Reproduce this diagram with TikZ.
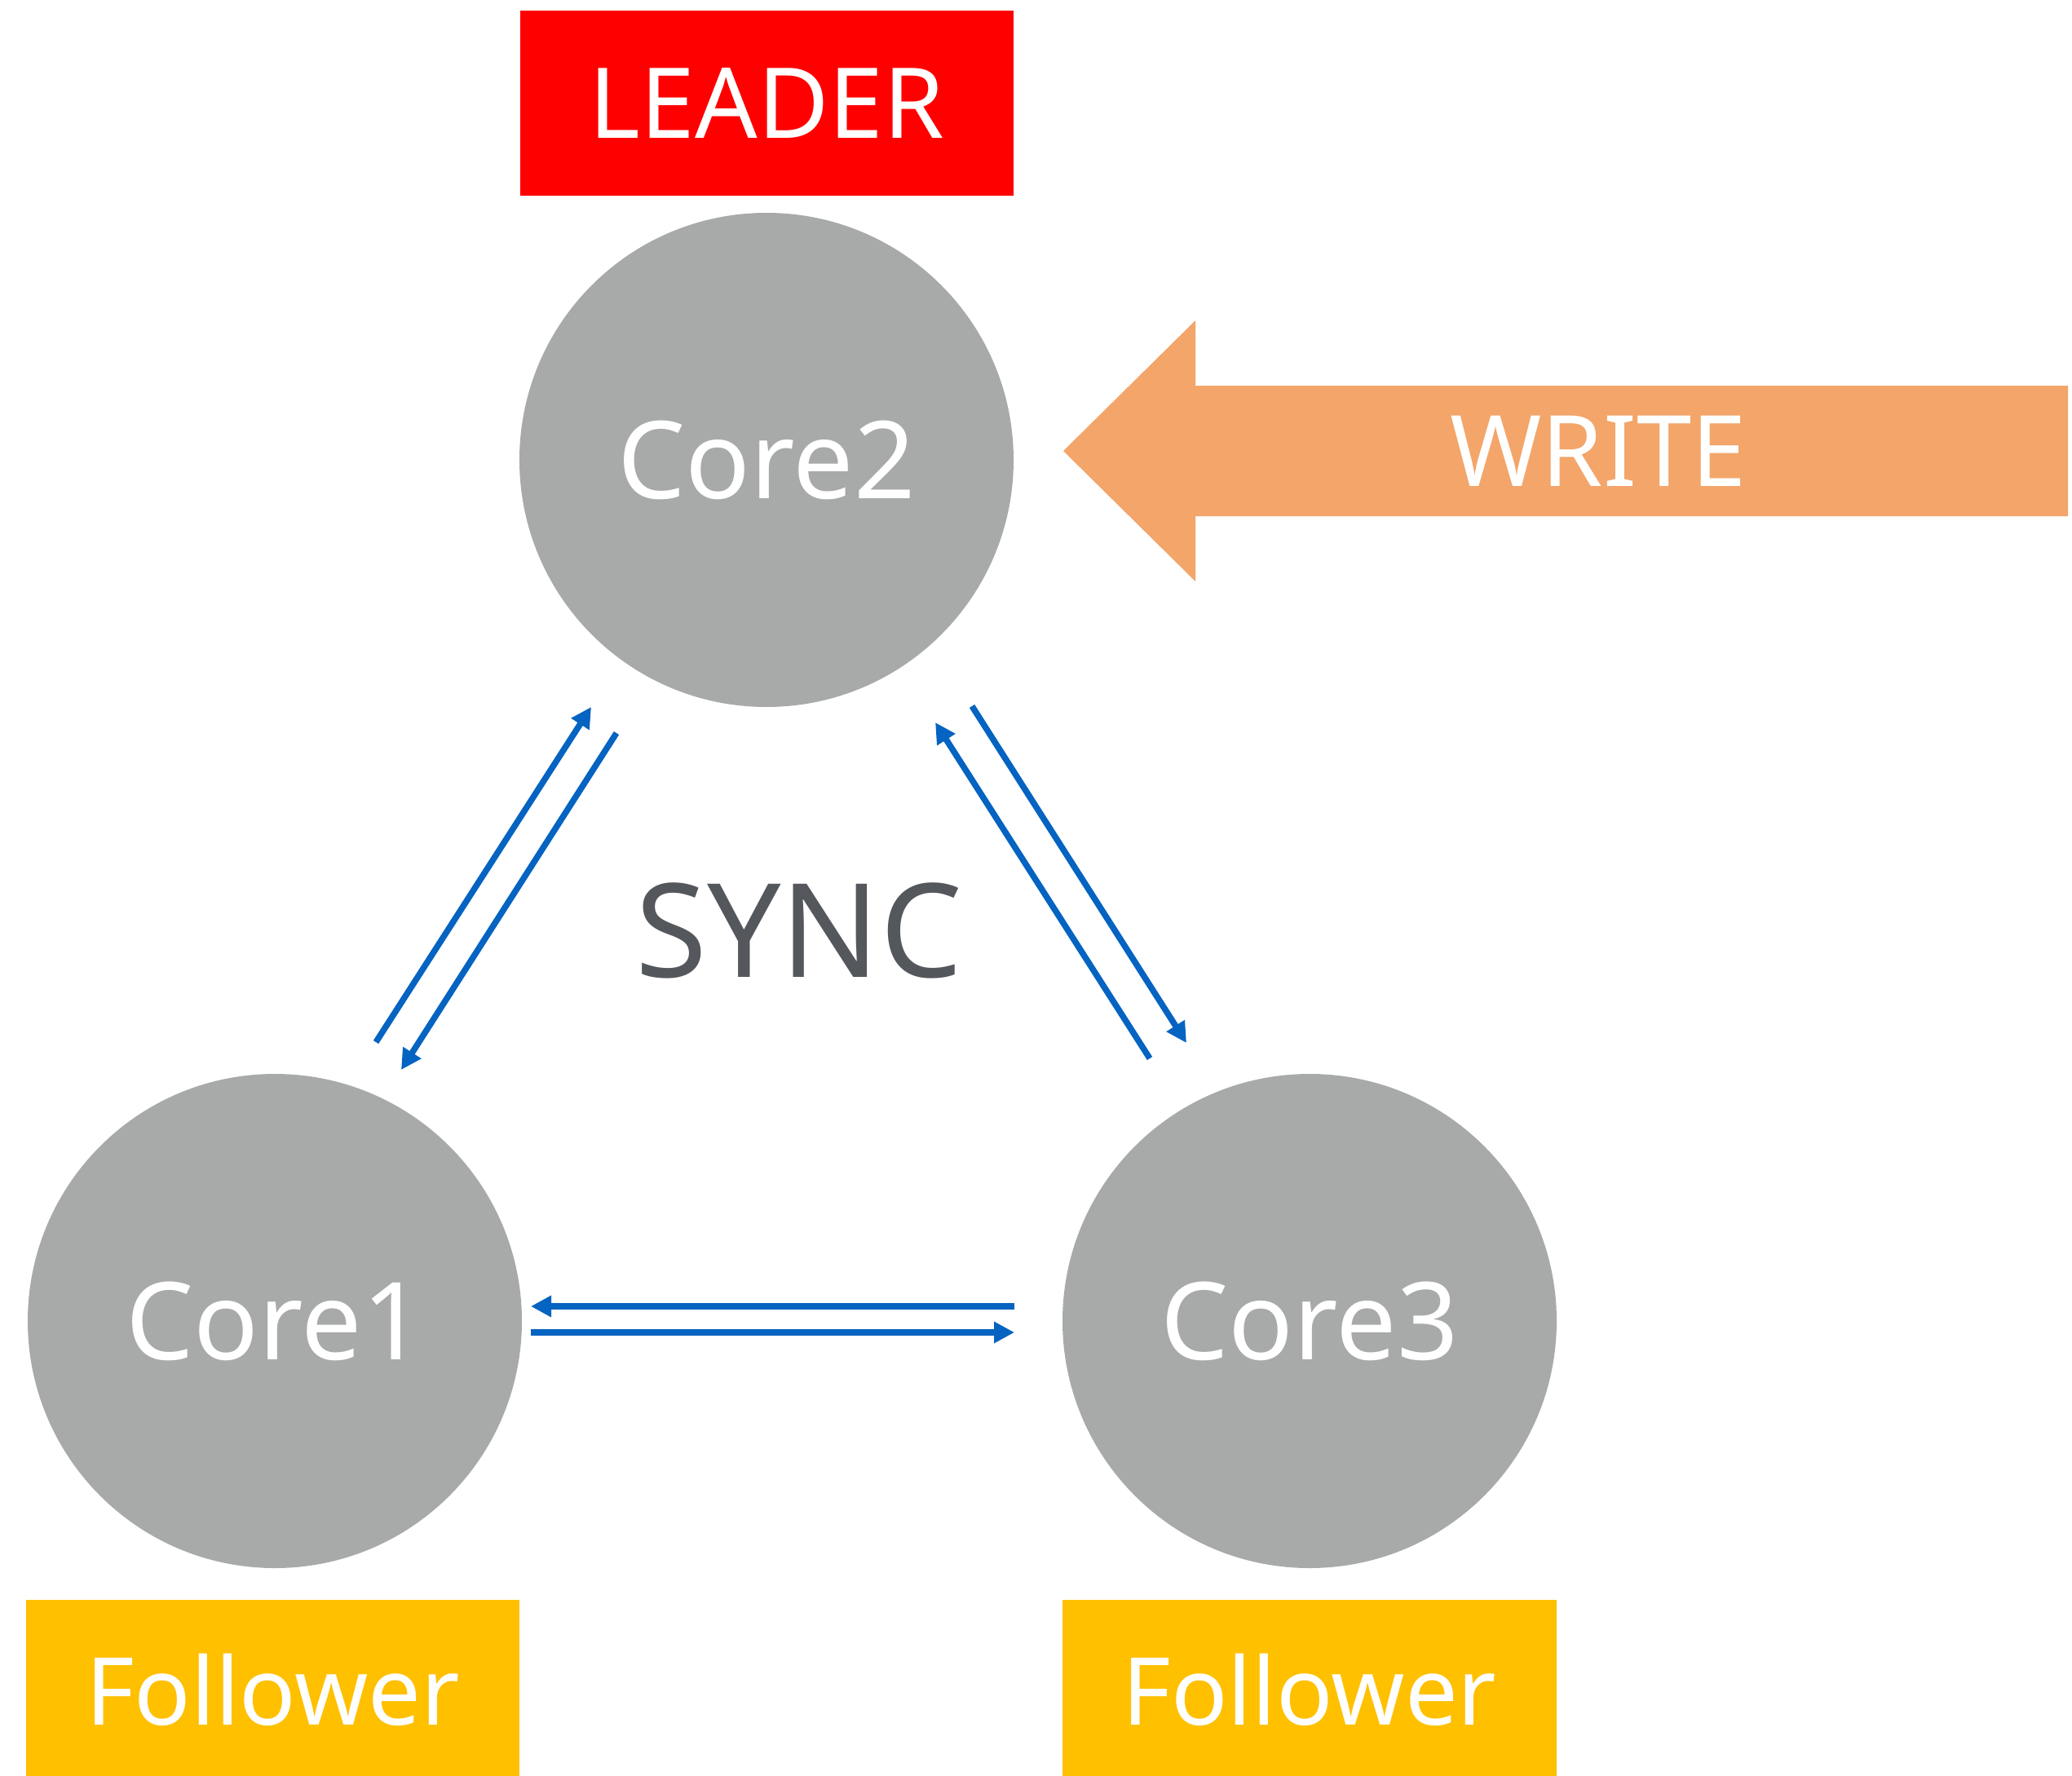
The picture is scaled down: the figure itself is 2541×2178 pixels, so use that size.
\documentclass[tikz,border=0pt]{standalone}
\usepackage{fontspec}
\setmainfont{Noto Sans}
\usetikzlibrary{arrows.meta}
\definecolor{coregray}{HTML}{A7AAA9}
\definecolor{leaderred}{HTML}{FF0000}
\definecolor{followyellow}{HTML}{FFC000}
\definecolor{writeorange}{HTML}{F3A56A}
\definecolor{syncblue}{HTML}{0563C1}
\definecolor{syncgray}{HTML}{54575C}
\tikzset{
  core/.style={circle, fill=coregray, minimum size=606pt, inner sep=0pt, text=white, font=\fontsize{132}{132}\selectfont},
  tagbox/.style={rectangle, inner sep=0pt, text=white, font=\fontsize{120}{120}\selectfont},
  syncarrow/.style={draw=syncblue, line width=7.5pt, -{Triangle[length=25pt,width=25pt]}},
}
\begin{document}
\begin{tikzpicture}[x=1pt,y=-1pt]
\useasboundingbox (0,0) rectangle (2541,2178);
% boxes
\node[tagbox, fill=leaderred, minimum width=605pt, minimum height=227pt] (leader) at (940.5,126.5) {LEADER};
\node[tagbox, fill=followyellow, minimum width=605pt, minimum height=220pt, font=\fontsize{115}{115}\selectfont] (f1) at (334.5,2072) {Follower};
\node[tagbox, fill=followyellow, minimum width=606pt, minimum height=220pt, font=\fontsize{115}{115}\selectfont] (f3) at (1606,2072) {Follower};
% cores
\node[core] (c2) at (940,564) {Core2};
\node[core] (c1) at (337,1620) {Core1};
\node[core] (c3) at (1606,1620) {Core3};
% write arrow
\fill[writeorange] (2536,473) -- (1466,473) -- (1466,393) -- (1304,553) -- (1466,713) -- (1466,633) -- (2536,633) -- cycle;
\node[text=white, font=\fontsize{121}{121}\selectfont] (write) at (1960,553) {WRITE};
% sync label
\node[text=syncgray, font=\fontsize{160}{160}\selectfont] (sync) at (980,1141) {SYNC};
% sync arrow endpoints
\coordinate (a1s) at (461,1278); \coordinate (a1e) at (725,867);
\coordinate (a2s) at (756,899);  \coordinate (a2e) at (492,1312);
\coordinate (a3s) at (1192,866); \coordinate (a3e) at (1455,1279);
\coordinate (a4s) at (1410,1298); \coordinate (a4e) at (1147,886);
\coordinate (a5s) at (1244,1602); \coordinate (a5e) at (651,1602);
\coordinate (a6s) at (651,1634);  \coordinate (a6e) at (1244,1634);
\draw[syncarrow] (a1s) -- (a1e);
\draw[syncarrow] (a2s) -- (a2e);
\draw[syncarrow] (a3s) -- (a3e);
\draw[syncarrow] (a4s) -- (a4e);
\draw[syncarrow] (a5s) -- (a5e);
\draw[syncarrow] (a6s) -- (a6e);
\end{tikzpicture}
\end{document}
